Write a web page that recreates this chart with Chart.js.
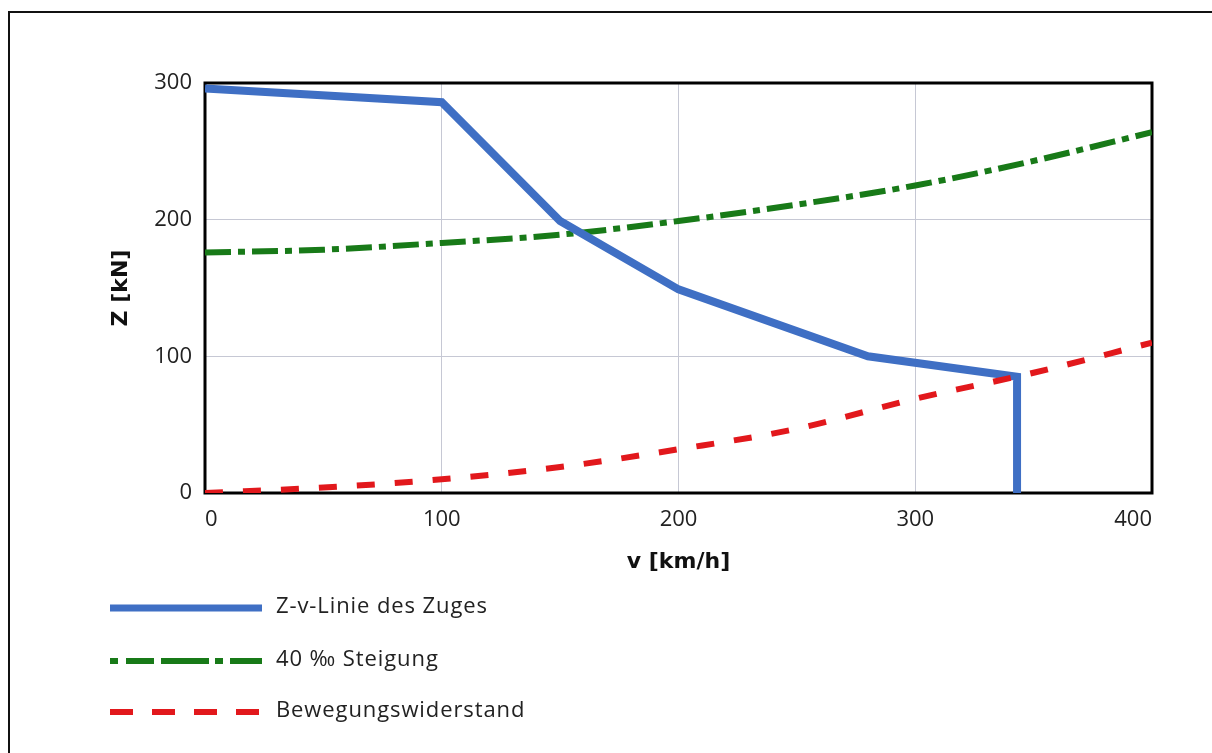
<!DOCTYPE html>
<html>
<head>
<meta charset="utf-8">
<script src="https://cdn.jsdelivr.net/npm/chart.js@4"></script>
<style>
  html, body { margin: 0; padding: 0; background: #fff; }
  #wrap { position: relative; width: 1212px; height: 753px; overflow: hidden; }
  #frame { position: absolute; left: 8px; top: 11px; width: 1300px; height: 900px;
           border-top: 2px solid #111; border-left: 2px solid #111; }
  canvas { position: absolute; left: 0; top: 0; }
</style>
</head>
<body>
<div id="wrap">
  <div id="frame"></div>
  <canvas id="c" width="1212" height="753"></canvas>
</div>
<script>
// ---- data ----
const speedZv   = [0, 100, 150, 200, 280, 343, 343];
const forceZv   = [296, 286, 199, 149, 100, 85, 0];
const speedGrade = [0, 50, 100, 150, 200, 250, 300, 350, 400];
const forceGrade = [176, 178, 183, 189, 199, 211, 225, 243, 264];
const speedRes  = [0, 50, 100, 150, 200, 250, 300, 350, 400];
const forceRes  = [0, 4, 10, 19, 32, 47, 69, 88, 110];
const xTicks = [0, 100, 200, 300, 400];
const yTicks = [0, 100, 200, 300];
const seriesNames = ['Z-v-Linie des Zuges', '40 ‰ Steigung', 'Bewegungswiderstand'];
const xTitle = 'v [km/h]';
const yTitle = 'Z [kN]';

const pts = (xs, ys) => xs.map((x, i) => ({ x: x, y: ys[i] }));
const FONT = "'Open Sans', 'Noto Sans', sans-serif";
const TITLE_FONT = "'DejaVu Sans', 'Open Sans', sans-serif";

const framePlugin = {
  id: 'frame',
  beforeDatasetsDraw(chart) {
    const { ctx, chartArea: a } = chart;
    ctx.save();
    ctx.strokeStyle = '#000';
    ctx.lineWidth = 3;
    ctx.strokeRect(a.left, a.top, a.right - a.left, a.bottom - a.top);
    ctx.restore();
  }
};

const legendPlugin = {
  id: 'vlegend',
  afterDraw(chart) {
    const { ctx } = chart;
    const ys = [608, 661, 712];
    chart.data.datasets.forEach((ds, i) => {
      ctx.save();
      ctx.strokeStyle = ds.borderColor;
      ctx.lineWidth = ds.legendWidth || ds.borderWidth;
      ctx.setLineDash(ds.legendDash || ds.borderDash || []);
      ctx.lineCap = 'butt';
      ctx.beginPath();
      ctx.moveTo(110, ys[i]);
      ctx.lineTo(262, ys[i]);
      ctx.stroke();
      ctx.setLineDash([]);
      ctx.fillStyle = '#222';
      ctx.font = "22px " + FONT;
      if ('letterSpacing' in ctx) ctx.letterSpacing = '0.9px';
      ctx.textBaseline = 'middle';
      ctx.textAlign = 'left';
      ctx.fillText(ds.label, 276, ys[i] - 1);
      ctx.restore();
    });
  }
};

new Chart(document.getElementById('c'), {
  type: 'line',
  data: {
    datasets: [
      {
        label: seriesNames[0],
        data: pts(speedZv, forceZv),
        borderColor: '#3f6fc4',
        borderWidth: 8,
        legendWidth: 7,
        pointRadius: 0,
        tension: 0,
        borderJoinStyle: 'miter',
        order: 1
      },
      {
        label: seriesNames[1],
        data: pts(speedGrade, forceGrade),
        borderColor: '#187a18',
        borderWidth: 6,
        borderDash: [26, 7, 7, 7],
        legendDash: [8, 8, 28, 7, 48, 6, 8, 7, 32, 100],
        pointRadius: 0,
        cubicInterpolationMode: 'monotone',
        order: 2
      },
      {
        label: seriesNames[2],
        data: pts(speedRes, forceRes),
        borderColor: '#e2181c',
        borderWidth: 6,
        borderDash: [18, 20],
        legendDash: [23, 19],
        pointRadius: 0,
        cubicInterpolationMode: 'monotone',
        order: 0
      }
    ]
  },
  options: {
    responsive: false,
    animation: false,
    devicePixelRatio: 1,
    layout: { padding: { left: 0, top: 83, right: 60, bottom: 160 } },
    plugins: {
      legend: { display: false },
      tooltip: { enabled: false }
    },
    scales: {
      x: {
        type: 'linear',
        min: 0, max: 400,
        afterBuildTicks(scale) { scale.ticks = xTicks.map(v => ({ value: v })); },
        afterFit(scale) { scale.height = 100; },
        border: { display: false },
        grid: { color: '#c6c8d4', lineWidth: 1, drawTicks: false },
        ticks: {
          align: 'inner',
          padding: 14,
          color: '#222',
          font: { family: FONT, size: 22 }
        },
        title: {
          display: true,
          text: xTitle,
          color: '#111',
          font: { family: TITLE_FONT, size: 22, weight: 'bold' },
          padding: { top: 0, bottom: 18 }
        }
      },
      y: {
        type: 'linear',
        min: 0, max: 300,
        afterBuildTicks(scale) { scale.ticks = yTicks.map(v => ({ value: v })); },
        afterFit(scale) { scale.width = 205; },
        border: { display: false },
        grid: { color: '#c6c8d4', lineWidth: 1, drawTicks: false },
        ticks: {
          padding: 13,
          color: '#222',
          font: { family: FONT, size: 22 }
        },
        title: {
          display: true,
          text: yTitle,
          color: '#111',
          font: { family: TITLE_FONT, size: 22, weight: 'bold' },
          padding: { top: 108, bottom: 0 }
        }
      }
    }
  },
  plugins: [framePlugin, legendPlugin]
});
</script>
</body>
</html>
